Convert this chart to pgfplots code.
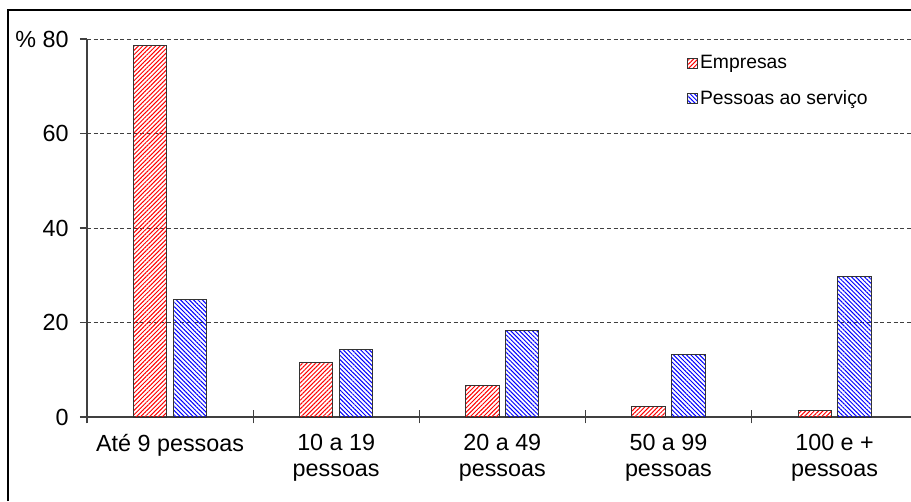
\documentclass[border=0pt]{standalone}
\usepackage{pgfplots}
\pgfplotsset{compat=1.18}
\usepackage{fontspec}
\setmainfont{Liberation Sans}
\usetikzlibrary{patterns.meta}
\newcommand{\lblfont}{\fontsize{17.5}{19.5}\selectfont}
\begin{document}
\begin{tikzpicture}[x=1pt,y=1pt]
\path[use as bounding box] (0,0) rectangle (683.25,375.75);
\draw[line width=1pt] (6,0) -- (6,368.25) -- (690,368.25);
\begin{axis}[
  at={(65.25pt,63pt)}, anchor=south west,
  scale only axis, width=618pt, height=283.5pt,
  xmin=-0.5, xmax=4.46, ymin=0, ymax=80,
  axis x line*=bottom, axis y line*=left,
  axis line style={black!75, line width=0.8pt, -},
  ytick={0,20,40,60,80},
  yticklabel={\lblfont\pgfmathprintnumber[assume math mode=true]{\tick}},
  ymajorgrids,
  grid style={densely dashed, black!75, line width=0.5pt},
  tick align=outside,
  major tick length=5.25pt,
  tick style={black!75, line width=0.8pt},
  xtick={0,1,2,3,4},
  xticklabels={Até 9 pessoas, {10 a 19\\pessoas}, {20 a 49\\pessoas}, {50 a 99\\pessoas}, {100 e +\\pessoas}},
  major x tick style={draw=none},
  minor xtick={-0.5,0.5,1.5,2.5,3.5},
  minor tick length=9.75pt,
  minor x tick style={yshift=4.9pt},
  tick label style={font=\lblfont},
  xticklabel style={align=center, font=\lblfont, yshift=-4pt},
  yticklabel style={font=\lblfont, xshift=-5pt},
  /pgf/number format/assume math mode=true,
  legend style={at={(rel axis cs:0.728,0.962)}, anchor=north west, draw=none, fill=none,
    font=\fontsize{14.5}{16}\selectfont, row sep=11.5pt, inner sep=0pt,
    nodes={inner sep=1.5pt}},
  legend cell align=left,
  legend image code/.code={\draw[#1] (0pt,-3.8pt) rectangle (7.5pt,3.8pt);},
  clip=false,
]
\addplot[ybar, bar width=0.2, bar shift=0pt, draw=black!80, line width=0.7pt,
  pattern={Lines[angle=45,distance=2.3pt,line width=0.75pt]}, pattern color=red]
  coordinates {(-0.12,78.7) (0.88,11.5) (1.88,6.7) (2.88,2.2) (3.88,1.3)};
\addlegendentry{Empresas}
\addplot[ybar, bar width=0.2, bar shift=0pt, draw=black!80, line width=0.7pt,
  pattern={Lines[angle=-45,distance=2.3pt,line width=0.75pt]}, pattern color=blue]
  coordinates {(0.12,24.9) (1.12,14.3) (2.12,18.3) (3.12,13.2) (4.12,29.8)};
\addlegendentry{Pessoas ao serviço}
\node[anchor=east, inner sep=0pt] at (rel axis cs:0,1) [xshift=-38pt] {\lblfont\%};
\end{axis}
\end{tikzpicture}
\end{document}
